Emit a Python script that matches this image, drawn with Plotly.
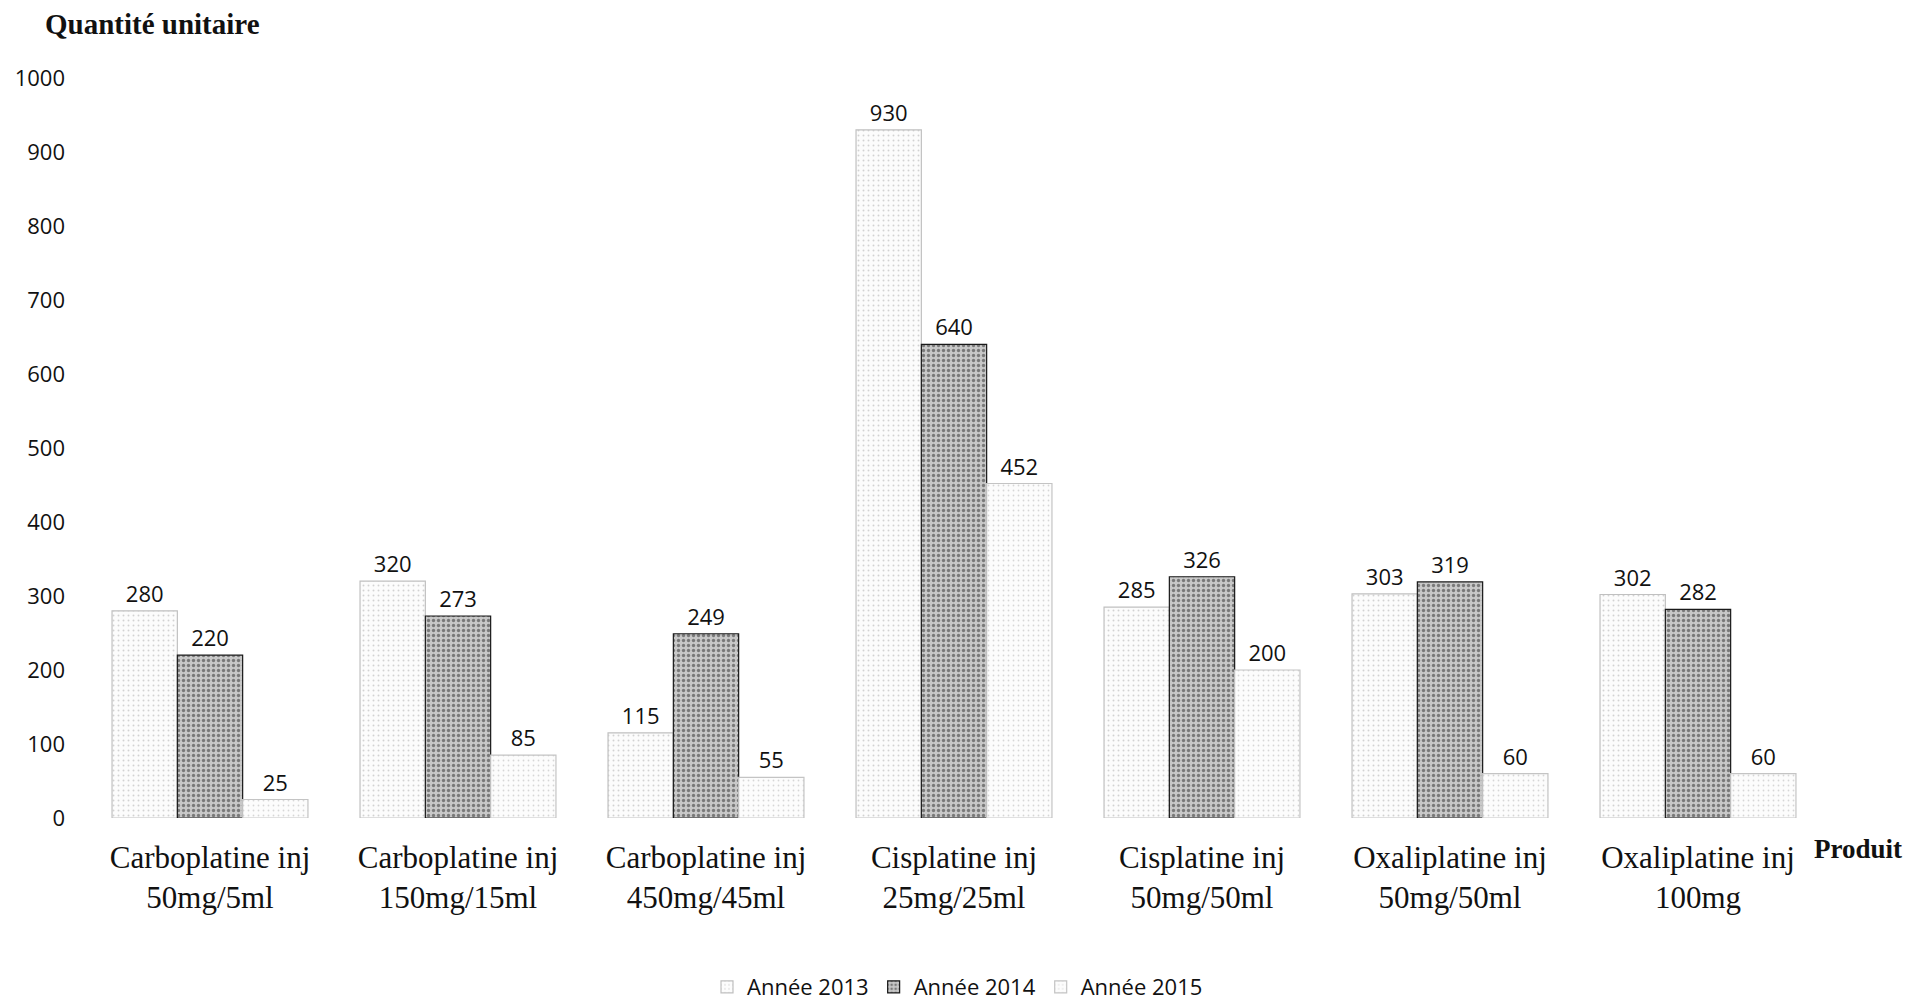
import plotly.graph_objects as go

categories = [
    "Carboplatine inj<br>50mg/5ml",
    "Carboplatine inj<br>150mg/15ml",
    "Carboplatine inj<br>450mg/45ml",
    "Cisplatine inj<br>25mg/25ml",
    "Cisplatine inj<br>50mg/50ml",
    "Oxaliplatine inj<br>50mg/50ml",
    "Oxaliplatine inj<br>100mg",
]
annee_2013 = [280, 320, 115, 930, 285, 303, 302]
annee_2014 = [220, 273, 249, 640, 326, 319, 282]
annee_2015 = [25, 85, 55, 452, 200, 60, 60]
series_names = ["Année 2013", "Année 2014", "Année 2015"]
y_ticks = [0, 100, 200, 300, 400, 500, 600, 700, 800, 900, 1000]

styles = [
    dict(bg="#fcfcfc", fg="#a8a8a8", sol=0.12, line="#c0c0c0"),
    dict(bg="#c8c8c8", fg="#2a2a2a", sol=0.35, line="#1a1a1a"),
    dict(bg="#fcfcfc", fg="#b0b0b0", sol=0.10, line="#c4c4c4"),
]

fig = go.Figure()
for name, vals, st in zip(series_names, [annee_2013, annee_2014, annee_2015], styles):
    fig.add_trace(go.Bar(
        name=name, x=categories, y=vals,
        text=[str(v) for v in vals], textposition="outside", cliponaxis=False,
        textfont=dict(family="Open Sans", size=22, color="#111"),
        marker=dict(color=st["bg"],
                    pattern=dict(shape=".", fgcolor=st["fg"], bgcolor=st["bg"],
                                 solidity=st["sol"], size=5),
                    line=dict(color=st["line"], width=1.2)),
    ))

fig.update_layout(
    width=1915, height=1000,
    barmode="group", bargap=0.21, bargroupgap=0,
    plot_bgcolor="white", paper_bgcolor="white",
    margin=dict(l=86, r=93, t=78, b=182, autoexpand=False),
    font=dict(family="Open Sans", color="#111"),
    showlegend=True,
    legend=dict(orientation="h", x=0.5, xanchor="center", xref="container",
                y=0.013, yanchor="middle", yref="container",
                font=dict(family="Open Sans", size=22), itemwidth=30,
                traceorder="normal"),
)
fig.update_xaxes(showline=False, showgrid=False, ticks="", automargin=False,
                 ticklabelstandoff=18,
                 tickfont=dict(family="Liberation Serif", size=31, color="#111"))
fig.update_yaxes(range=[0, 1000], tickvals=y_ticks, showgrid=False, zeroline=False,
                 showline=False, ticks="", ticklabelstandoff=20, automargin=False,
                 tickfont=dict(family="Open Sans", size=22, color="#111"))

fig.add_annotation(text="<b>Quantité unitaire</b>", xref="paper", yref="paper",
                   x=0, xshift=-43, y=1.0, yshift=54, xanchor="left", yanchor="middle",
                   showarrow=False, font=dict(family="Liberation Serif", size=29, color="#111"))
fig.add_annotation(text="<b>Produit</b>", xref="paper", yref="paper",
                   x=1.0, xshift=-10, y=0, yshift=-31, xanchor="left", yanchor="middle",
                   showarrow=False, font=dict(family="Liberation Serif", size=27, color="#111"))

fig.write_html("out.html")
